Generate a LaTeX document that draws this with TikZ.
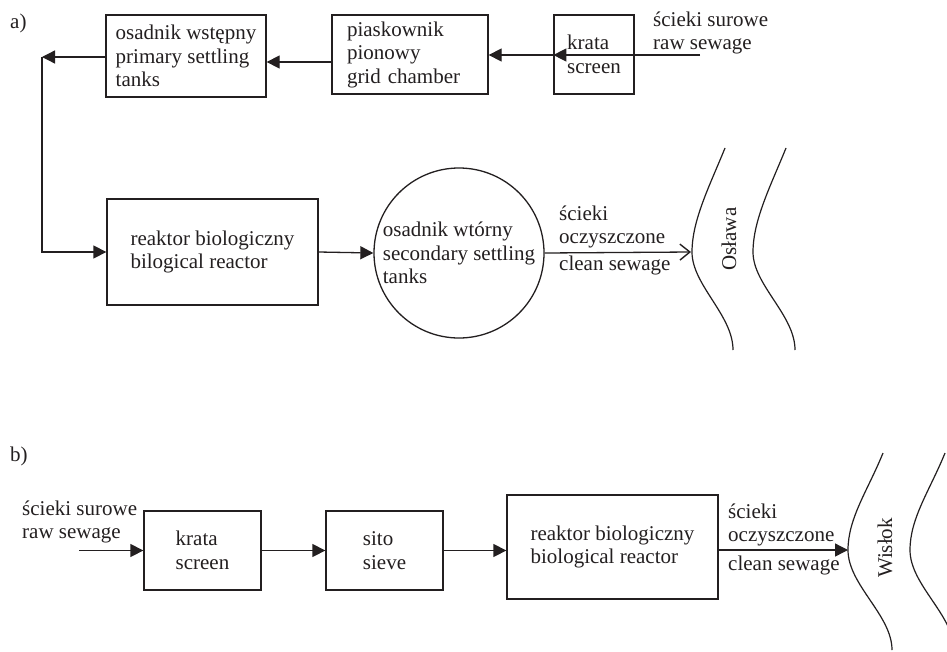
\documentclass[tikz,border=0pt]{standalone}
\usepackage{fontspec}
\setmainfont{Liberation Serif}
\usetikzlibrary{arrows.meta}
\definecolor{ink}{RGB}{35,31,32}
\begin{document}
\begin{tikzpicture}[x=1pt,y=-1pt,
  every node/.style={font=\fontsize{21}{23.5}\selectfont, text=ink},
  box/.style={draw=ink, line width=1.3pt, inner sep=0pt, align=left},
  lbl/.style={inner sep=0pt, align=left},
  arr/.style={draw=ink, line width=1.3pt, -{Triangle[length=13pt,width=13pt]}},
  openarr/.style={draw=ink, line width=1.3pt, -{Straight Barb[length=10pt,width=16pt,line width=1.4pt]}},
  river/.style={draw=ink, line width=1.2pt}]
\useasboundingbox (0,0) rectangle (947,651);
\fill[white] (0,0) rectangle (947,651);

% ---------------- panel a ----------------
\node[lbl, anchor=base west] (la) at (10,28) {a)};
\node[box, minimum width=160pt, minimum height=82pt] (osad) at (186,56) {osadnik wstępny\\primary settling\\tanks};
\node[box, minimum width=156pt, minimum height=79pt, text width=126pt, inner xsep=15pt] (piask) at (410,54.5) {piaskownik\\pionowy\\grid chamber};
\node[box, minimum width=80pt, minimum height=79pt] (krataA) at (594,54.5) {krata\\screen};
\node[box, minimum width=211pt, minimum height=106pt] (reactA) at (212.5,252) {reaktor biologiczny\\bilogical reactor};
\node[box, circle, minimum size=170pt] (circ) at (459,253) {osadnik wtórny\\secondary settling\\tanks};

\coordinate (rawA) at (700,55);
\coordinate (yA3) at (0,62);
\coordinate (bend) at (42,57);
\coordinate (rivA) at (691,252);

\node[lbl, anchor=south west] (rawAlbl) at (653,54.6) {ścieki surowe\\raw sewage};
\draw[arr] (rawA) -- (rawA -| krataA.west);
\draw[arr] (krataA.west |- rawA) -- (piask.east |- rawA);
\draw[arr] (piask.west |- yA3) -- (osad.east |- yA3);
\draw[arr] (osad.west |- bend) -- (bend);
\draw[arr] (bend) -- (bend |- reactA.west) -- (reactA.west);
\draw[arr] (reactA.east) -- (circ.west);
\draw[openarr] (circ.east) -- (rivA);
\node[lbl, anchor=south west] (cleanA1) at (559,248.6) {ścieki\\oczyszczone};
\node[lbl, anchor=north west] (cleanA2) at (559,255.7) {clean sewage};

\draw[river] (725,148) .. controls (710,185) and (692,220) .. (692,252) .. controls (692,285) and (733,315) .. (733,350);
\draw[river] (786,148) .. controls (771,185) and (753,220) .. (753,252) .. controls (753,285) and (795,315) .. (795,350);
\node[lbl, rotate=90] (oslawa) at (729,239) {Osława};

% ---------------- panel b ----------------
\node[lbl, anchor=base west] (lb) at (10,461) {b)};
\node[box, minimum width=117pt, minimum height=79pt] (krataB) at (202.5,550.5) {krata\\screen};
\node[box, minimum width=117pt, minimum height=79pt] (sito) at (384.5,550.5) {sito\\sieve};
\node[box, minimum width=211pt, minimum height=104pt] (reactB) at (612.5,547) {reaktor biologiczny\\biological reactor};

\coordinate (rawB) at (79,550.5);
\coordinate (rivB) at (848,550);

\node[lbl, anchor=south west] (rawBlbl) at (22,543.6) {ścieki surowe\\raw sewage};
\draw[arr] (rawB) -- (krataB.west);
\draw[arr] (krataB.east) -- (sito.west);
\draw[arr] (sito.east) -- (reactB.west |- sito.east);
\draw[arr] (reactB.east |- rivB) -- (rivB);
\node[lbl, anchor=south west] (cleanB1) at (728,546.6) {ścieki\\oczyszczone};
\node[lbl, anchor=north west] (cleanB2) at (728,555.7) {clean sewage};

\draw[river] (883,453) .. controls (868,490) and (848,518) .. (848,550) .. controls (848,585) and (892,615) .. (892,650);
\draw[river] (945,453) .. controls (930,490) and (910,518) .. (910,550) .. controls (910,585) and (954,615) .. (954,650);
\node[lbl, rotate=90] (wislok) at (885,548) {Wisłok};
\end{tikzpicture}
\end{document}
